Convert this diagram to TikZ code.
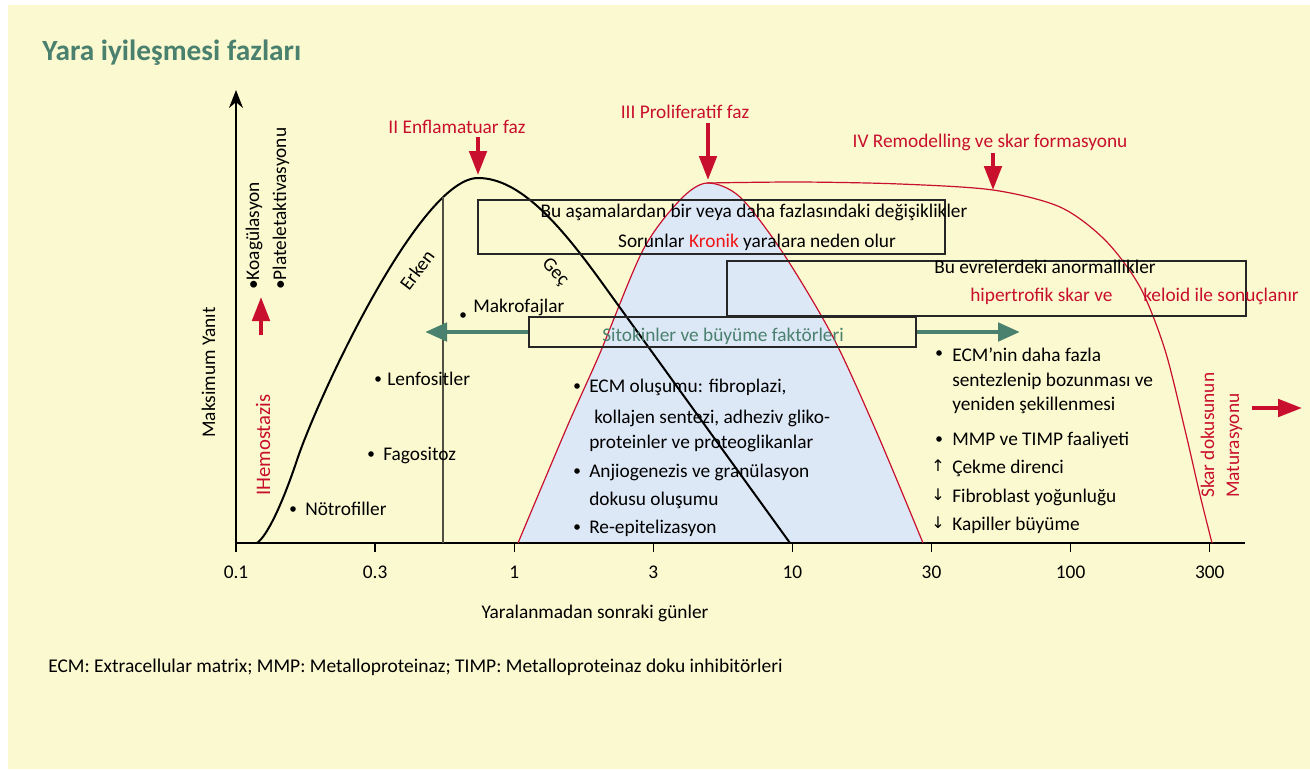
\documentclass[tikz,border=0pt]{standalone}
\usepackage{fontspec}
\setmainfont{Carlito}
\newfontfamily\arrowfont{DejaVu Sans}
\usepackage{xcolor}
\usetikzlibrary{arrows.meta,fit}

\definecolor{panelyellow}{HTML}{FBF9CF}
\definecolor{phasered}{HTML}{C8102E}
\definecolor{kronikred}{HTML}{F01414}
\definecolor{sitoteal}{HTML}{4A806E}
\definecolor{bellblue}{HTML}{DDE8F7}
\definecolor{splitgray}{HTML}{4F4F42}

\begin{document}
\begin{tikzpicture}[x=0.75pt, y=-0.75pt,
    every node/.style={font=\fontsize{14.5}{17}\selectfont, inner sep=0pt},
    phase/.style={text=phasered, anchor=base},
    lbl/.style={anchor=base west},
    upright/.style={anchor=base west, rotate=90},
    box/.style={draw=black!85, line width=0.9pt},
    celldot/.style={circle, fill=black, minimum size=4.2pt},
    updown/.style={anchor=base, font=\arrowfont\fontsize{12}{14}\selectfont},
    redarrow/.style={draw=phasered, line width=3pt,
      -{Triangle[length=18pt,width=13pt]}},
    tealarrow/.style={draw=sitoteal, line width=3.6pt,
      -{Triangle[length=16.5pt,width=13.5pt]}}]
  \useasboundingbox (0,0) rectangle (1310,769);
  \fill[white] (0,0) rectangle (1310,769);
  \fill[panelyellow] (8,5) rectangle (1310,769);

  \node[lbl, text=sitoteal, font=\fontsize{22}{26}\selectfont\bfseries] (title) at (42,60) {Yara iyileşmesi fazları};

  % proliferatif faz
  \fill[bellblue] plot[smooth] coordinates {(518,543) (567,427) (600,353) (643,250) (680,200) (707,183) (740,197) (783,253) (833,337) (877,433) (923,543)} -- cycle;

  % eksenler
  \coordinate (origin) at (236,543);
  \coordinate (ytop) at (236,90);
  \coordinate (xend) at (1245,543);
  \draw[line width=1.1pt, -{Stealth[length=13.5pt,width=10.5pt]}] (origin) -- (ytop);
  \draw[line width=1.1pt] (origin) -- (xend);
  \foreach \lab [count=\i from 0] in {0.1,0.3,1,3,10,30,100,300} {
    \draw[line width=1pt] (236+139.1*\i,543) -- (236+139.1*\i,552);
    \node[anchor=base] (tick\i) at (236+139.1*\i,578) {\lab};
  }
  \node[upright] (yanit) at (215,438) {Maksimum Yanıt};
  \node[anchor=base] (gunler) at (595,618) {Yaralanmadan sonraki günler};

  % egriler
  \draw[phasered, line width=0.9pt] plot[smooth] coordinates {(518,543) (567,427) (600,353) (643,250) (680,200) (707,183) (740,197) (783,253) (833,337) (877,433) (923,543)};
  \draw[phasered, line width=0.9pt] plot[smooth] coordinates {(707,183) (800,182) (900,184) (993,190) (1060,207) (1105,240) (1140,287) (1165,350) (1185,430) (1200,495) (1212,543)};
  \draw[line width=1.5pt] (257,543) .. controls (267,536) and (282,505) .. (297,460)
    .. controls (318,397) and (420,178) .. (478,178)
    .. controls (520,178) and (560,225) .. (600,280) -- (790,543);
  \draw[splitgray, line width=1.3pt] (443,197) -- (443,543);
  \node[rotate=53] (erken) at (417,270) {Erken};
  \node[rotate=-47] (gec) at (555,272) {Geç};

  % hemostaz
  \node[upright, text=phasered, font=\fontsize{15.5}{18}\selectfont] (hemo) at (270,496) {IHemostazis};
  \node[upright] (koag) at (259,290) {•Koagülasyon};
  \node[upright] (plt) at (286,290) {•Plateletaktivasyonu};
  \coordinate (hemoBase) at (261,335);
  \coordinate (hemoTip) at (261,297);
  \draw[redarrow] (hemoBase) -- (hemoTip);

  % faz etiketleri
  \node[phase] (enfl) at (457,133) {II Enflamatuar faz};
  \node[phase] (prolif) at (685,118) {III Proliferatif faz};
  \node[phase] (remod) at (990,147) {IV Remodelling ve skar formasyonu};
  \coordinate (enflTop) at (478,137);
  \coordinate (enflTip) at (478,175);
  \coordinate (prolifTop) at (708,123);
  \coordinate (prolifTip) at (708,180);
  \coordinate (remodTop) at (993,153);
  \coordinate (remodTip) at (993,190);
  \draw[redarrow] (enflTop) -- (enflTip);
  \draw[redarrow] (prolifTop) -- (prolifTip);
  \draw[redarrow] (remodTop) -- (remodTip);

  % kutular
  \node[box, fit={(478,200) (945,254)}] (degisim) {};
  \node[anchor=base] (degisimA) at (754,217) {Bu aşamalardan bir veya daha fazlasındaki değişiklikler};
  \node[anchor=base] (degisimB) at (757,247) {Sorunlar \textcolor{kronikred}{Kronik} yaralara neden olur};
  \node[box, fit={(727,261) (1246,316)}] (anormal) {};
  \node[anchor=base] (anormalA) at (1045,273) {Bu evrelerdeki anormallikler};
  \node[lbl, text=phasered] (hiper) at (970,301) {hipertrofik skar ve};
  \node[lbl, text=phasered] (keloid) at (1143,301) {keloid ile sonuçlanır};
  \node[box, fit={(529,317) (916,347)}] (sito) {};
  \node[anchor=base, text=sitoteal] (sitoA) at (723,341) {Sitokinler ve büyüme faktörleri};
  \coordinate (sitoL) at (425,332);
  \coordinate (sitoR) at (1020,332);
  \draw[tealarrow] (sito.west) -- (sitoL);
  \draw[tealarrow] (sito.east) -- (sitoR);

  % hucreler
  \node[celldot] (makroDot) at (463,315) {};
  \node[lbl] (makro) at (473,312) {Makrofajlar};
  \node[celldot] (lenfDot) at (378,379) {};
  \node[lbl] (lenf) at (387,385) {Lenfositler};
  \node[celldot] (fagoDot) at (371,454) {};
  \node[lbl] (fago) at (383,460) {Fagositoz};
  \node[celldot] (notroDot) at (293,509) {};
  \node[lbl] (notro) at (305,515) {Nötrofiller};

  % proliferasyon listesi
  \node[celldot] (ecmDot) at (577,386) {};
  \node[lbl] (ecm1) at (589,392) {ECM oluşumu: fibroplazi,};
  \node[lbl] (ecm2) at (594,423) {kollajen sentezi, adheziv gliko-};
  \node[lbl] (ecm3) at (589,448) {proteinler ve proteoglikanlar};
  \node[celldot] (anjDot) at (577,471) {};
  \node[lbl] (anj1) at (589,477) {Anjiogenezis ve granülasyon};
  \node[lbl] (anj2) at (589,505) {dokusu oluşumu};
  \node[celldot] (reDot) at (577,527) {};
  \node[lbl] (re1) at (589,533) {Re-epitelizasyon};

  % remodelling listesi
  \node[celldot] (ecmnDot) at (939,353) {};
  \node[lbl] (ecmn1) at (952,361) {ECM’nin daha fazla};
  \node[lbl] (ecmn2) at (952,386) {sentezlenip bozunması ve};
  \node[lbl] (ecmn3) at (952,410) {yeniden şekillenmesi};
  \node[celldot] (mmpDot) at (939,439) {};
  \node[lbl] (mmp) at (952,445) {MMP ve TIMP faaliyeti};
  \node[updown] (cekmeA) at (938,471) {↑};
  \node[lbl] (cekme) at (952,473) {Çekme direnci};
  \node[updown] (fibroA) at (938,500) {↓};
  \node[lbl] (fibro) at (952,502) {Fibroblast yoğunluğu};
  \node[updown] (kapA) at (938,528) {↓};
  \node[lbl] (kap) at (952,530) {Kapiller büyüme};

  % skar maturasyonu
  \node[upright, text=phasered] (skar) at (1214,498) {Skar dokusunun};
  \node[upright, text=phasered] (matur) at (1239,498) {Maturasyonu};
  \coordinate (maturBase) at (1252,408);
  \coordinate (maturTip) at (1302,408);
  \draw[redarrow] (maturBase) -- (maturTip);

  \node[lbl, font=\fontsize{14.6}{17}\selectfont] (footer) at (48,672) {ECM: Extracellular matrix; MMP: Metalloproteinaz; TIMP: Metalloproteinaz doku inhibitörleri};
\end{tikzpicture}
\end{document}
